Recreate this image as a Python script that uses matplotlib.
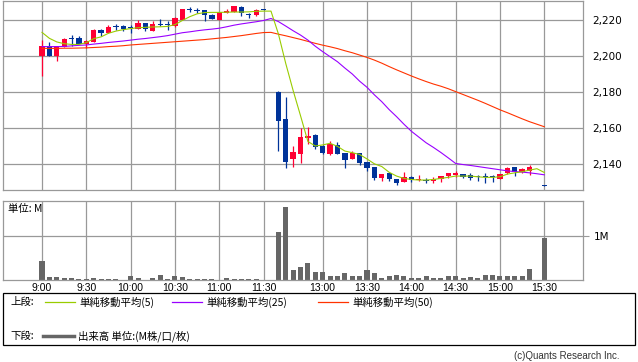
import matplotlib
matplotlib.use("Agg")
import matplotlib.pyplot as plt
from matplotlib.lines import Line2D
from matplotlib.patches import Rectangle
from matplotlib.ticker import FuncFormatter

plt.rcParams['font.family'] = ['DejaVu Sans', 'Noto Sans CJK JP']
JP = ['Noto Sans CJK JP', 'DejaVu Sans']

# 5分足の時刻 (前場 9:00-11:30 / 昼休み 1枠 / 後場 12:30-15:30)
am_times = [f"{9 + m // 60}:{m % 60:02d}" for m in range(0, 155, 5)]
pm_times = [f"{12 + (30 + m) // 60}:{(30 + m) % 60:02d}" for m in range(0, 185, 5)]
times = am_times + [""] + pm_times

xtick_labels = ["9:00", "9:30", "10:00", "10:30", "11:00", "11:30",
                "13:00", "13:30", "14:00", "14:30", "15:00", "15:30"]
price_ticks = [2140, 2160, 2180, 2200, 2220]

N = None
opens = [2200, 2206, 2200, 2205, 2210, 2210, 2207, 2208, 2214.6, 2213,
         2217, 2216.8, 2215.8, 2215.4, 2218.3, 2214, 2218, 2217.6, 2217, 2220.2,
         2225.8, 2225.4, 2225.5, 2223.1, 2220.2, 2223.9, 2224.6, 2227.6, 2223.3, 2223.1,
         2226.2, N,
         2180, 2165.2, 2143.1, 2145.7, 2154.8, 2156.3, 2150.4, 2145.7, 2150.7, 2146.3,
         2143.1, 2146.1, 2141.1, 2138.7, 2132.6, 2135, 2131.8, 2130, 2133.1, 2131.1,
         2131.5, 2130.9, 2131.6, 2133.5, 2134.1, 2134.6, 2134.1, 2133.7, 2133.5, 2133.2,
         2131.8, 2135, 2138.3, 2135.7, 2136.3, N, 2128.4]
highs = [2209, 2208, 2206, 2210, 2212, 2211.3, 2209, 2215, 2215, 2217.6,
         2218, 2217.6, 2217.6, 2220.2, 2218.4, 2219.8, 2220.7, 2219.6, 2221.6, 2226.5,
         2227.2, 2226.6, 2225.6, 2223.7, 2224.5, 2226.3, 2228, 2228, 2224.2, 2226.1,
         2226.2, N,
         2180.7, 2177.4, 2150.2, 2160.4, 2160.7, 2157, 2150.5, 2153, 2152.6, 2146.5,
         2147.2, 2146.2, 2141.2, 2138.8, 2134.5, 2135.2, 2132, 2135.5, 2133.3, 2134.1,
         2132.2, 2132.8, 2133.6, 2135.3, 2136.5, 2134.7, 2135, 2134.1, 2135, 2134.1,
         2134.7, 2138.3, 2138.4, 2137.8, 2139.6, N, 2128.4]
lows = [2189, 2200, 2197.5, 2205, 2206, 2207, 2204.5, 2208, 2211.5, 2213,
        2214.6, 2214.3, 2212.8, 2215, 2214.3, 2214, 2216.8, 2214.8, 2216.5, 2220,
        2224.8, 2223.9, 2219.8, 2220.5, 2220, 2223.9, 2224.5, 2222.6, 2221.3, 2222.6,
        2226, N,
        2147.6, 2137.8, 2138.3, 2140.9, 2151.1, 2148.3, 2145.5, 2145.3, 2145.6, 2137.8,
        2142.8, 2139.6, 2136.5, 2131.5, 2130.9, 2130.9, 2128.5, 2130, 2130.3, 2130.9,
        2129.8, 2129.8, 2130, 2132.2, 2133.1, 2132.2, 2131.5, 2130.9, 2129.4, 2130,
        2131.8, 2134.6, 2133.7, 2135, 2134.1, N, 2128.2]
closes = [2206, 2200, 2205.5, 2209.5, 2209.8, 2207, 2208.7, 2214.6, 2213, 2216.3,
          2216.2, 2215, 2215.6, 2218.3, 2215, 2218, 2217.6, 2217.3, 2221.1, 2226.1,
          2225.6, 2225.2, 2223.1, 2220.5, 2224.4, 2225.2, 2227.9, 2223.9, 2223, 2225.5,
          2226, N,
          2164.2, 2141.5, 2146.8, 2155.2, 2155.9, 2149.8, 2146.5, 2151.3, 2145.7, 2142.6,
          2146.5, 2140.9, 2138.1, 2132.6, 2134.4, 2131.6, 2129.4, 2133.1, 2131.3, 2131.5,
          2130.9, 2131.6, 2133.5, 2135, 2135.3, 2133.1, 2132.2, 2132.8, 2132.8, 2133,
          2134.6, 2137.8, 2135.7, 2137.2, 2138.3, N, 2128.2]

ma5 = [2213.3, 2210, 2208, 2207, 2206.6, 2206.6, 2207.6, 2209.8, 2210.8, 2212.8,
       2214, 2214.8, 2215.4, 2215.9, 2216.1, 2216.3, 2216.4, 2216.6, 2217.6, 2219.9,
       2222, 2223.6, 2224.3, 2224.4, 2224.4, 2224.5, 2224.6, 2224.6, 2224.7, 2225,
       2225.1, 2225.1,
       2212.5, 2196, 2181, 2167, 2152.7, 2150.2, 2150.8, 2151.7, 2150, 2147.4,
       2146.5, 2145.5, 2143, 2140.3, 2138.8, 2135.6, 2133.5, 2132.2, 2131.6, 2131.3,
       2131.3, 2131.6, 2132.2, 2132.8, 2133.5, 2133.5, 2133.5, 2133.1, 2132.8, 2132.8,
       2133.1, 2134.6, 2135.3, 2135.9, 2136.8, 2137.6, 2135.5]
ma25 = [2205.4, 2205.4, 2205.4, 2205.5, 2205.8, 2206.1, 2206.3, 2206.8, 2207.2, 2207.7,
        2208.1, 2208.5, 2209, 2209.5, 2209.9, 2210.4, 2210.9, 2211.5, 2212.3, 2213.1,
        2213.6, 2214.2, 2214.7, 2215.1, 2215.6, 2216.4, 2217.3, 2218, 2218.6, 2219.2,
        2219.9, 2221,
        2219.3, 2216.8, 2214.2, 2211.8, 2209, 2205.6, 2202.6, 2199.8, 2197, 2193.5,
        2190.2, 2186.2, 2182.8, 2178.6, 2174.8, 2170.4, 2166.5, 2162.3, 2158.4, 2155.2,
        2152, 2149.4, 2146.6, 2143.6, 2140.5, 2139.9, 2139.4, 2138.8, 2138.2, 2137.6,
        2137, 2136.4, 2136, 2135.7, 2135.3, 2134.8, 2134.2]
ma50 = [2204.4, 2204.4, 2204.4, 2204.5, 2204.5, 2204.6, 2204.7, 2204.9, 2205.1, 2205.4,
        2205.6, 2205.9, 2206.3, 2206.6, 2206.9, 2207.2, 2207.5, 2207.8, 2208.1, 2208.4,
        2208.7, 2209, 2209.3, 2209.7, 2210.1, 2210.5, 2211, 2211.5, 2212.1, 2212.7,
        2213.2, 2213.3,
        2212.3, 2211.4, 2210.4, 2209.4, 2208.3, 2207.2, 2206.2, 2205.3, 2204.3, 2203.1,
        2202, 2200.7, 2199.4, 2197.9, 2196.2, 2194.3, 2192.5, 2190.8, 2189.1, 2187.5,
        2186, 2184.6, 2183.4, 2182, 2180.4, 2178.8, 2177.2, 2175.6, 2173.9, 2172.1,
        2170.3, 2168.7, 2167, 2165.3, 2163.7, 2162.3, 2160.9]

# 出来高 (百万株)
volume = [0.43, 0.07, 0.07, 0.05, 0.05, 0.03, 0.03, 0.05, 0.03, 0.03,
          0.03, 0.01, 0.09, 0.05, 0.01, 0.05, 0.11, 0.03, 0.09, 0.07,
          0.03, 0.03, 0.03, 0.03, 0.01, 0.05, 0.03, 0.03, 0.03, 0.03,
          0.01, 0,
          1.08, 1.65, 0.23, 0.30, 0.38, 0.19, 0.19, 0.08, 0.10, 0.16,
          0.08, 0.10, 0.23, 0.16, 0.05, 0.10, 0.11, 0.08, 0.05, 0.05,
          0.10, 0.05, 0.05, 0.08, 0.10, 0.05, 0.07, 0.05, 0.11, 0.11,
          0.10, 0.10, 0.10, 0.10, 0.25, 0, 0.95]

UP = '#ff0033'
DOWN = '#003399'
GRID = '#999999'
W, H = 638, 362

fig = plt.figure(figsize=(W / 100, H / 100), dpi=100)
fig.patch.set_facecolor('white')


def fx(x):
    return x / W


def fy(y):
    return 1 - y / H


ax = fig.add_axes([fx(3), fy(190.3), fx(579.7), 189.8 / H])
axv = fig.add_axes([fx(3), fy(280), fx(579.7), 79 / H])

xs = list(range(len(times)))
tick_pos = [times.index(t) for t in xtick_labels]

# ローソク足
for i in xs:
    o, h, l, c = opens[i], highs[i], lows[i], closes[i]
    if o is None:
        continue
    col = UP if c > o else DOWN
    ax.vlines(i, l, h, color=col, lw=0.9, zorder=2)
    ax.bar(i, max(abs(c - o), 0.55), bottom=min(o, c), width=0.72,
           color=col, lw=0, zorder=2)

ax.plot(xs, ma50, color='#ff3300', lw=0.8, zorder=3)
ax.plot(xs, ma25, color='#9900ff', lw=0.8, zorder=3)
ax.plot(xs, ma5, color='#99cc00', lw=0.8, zorder=4)

ax.set_xlim(-5.28, 73.2)
ax.set_ylim(2125.6, 2231)
ax.set_xticks(tick_pos)
ax.set_xticklabels([])
ax.set_yticks(price_ticks)
ax.yaxis.tick_right()
ax.yaxis.set_major_formatter(FuncFormatter(lambda v, p: f"{int(v):,}"))
ax.tick_params(axis='y', length=0, pad=7, labelsize=7.5)
ax.tick_params(axis='x', length=0)
ax.grid(True, color=GRID, lw=0.9, zorder=0)
ax.set_axisbelow(True)

# 出来高
vx = [i for i in xs if volume[i] > 0]
axv.bar(vx, [volume[i] for i in vx], width=0.68, color='#666666', lw=0, zorder=2)
axv.set_xlim(-5.28, 73.2)
axv.set_ylim(0, 1.78)
axv.set_yticks([1.0])
axv.set_yticklabels(["1M"])
axv.yaxis.tick_right()
axv.tick_params(axis='y', length=4, width=0.8, color=GRID, pad=4, labelsize=7.5)
axv.set_xticks(tick_pos)
axv.set_xticklabels(xtick_labels, fontsize=7.5, family=['Liberation Sans', 'DejaVu Sans'])
axv.tick_params(axis='x', length=0, pad=2)
axv.grid(True, color=GRID, lw=0.9, zorder=0)
axv.set_axisbelow(True)
axv.text(0.009, 0.9, "単位: M", transform=axv.transAxes, fontsize=7.5,
         family=JP, va='center', ha='left')

for a in (ax, axv):
    for s in a.spines.values():
        s.set_color(GRID)
        s.set_linewidth(0.9)

# 凡例
fig.add_artist(Rectangle((fx(3), fy(345)), fx(632), 52 / H, transform=fig.transFigure,
                         fill=False, edgecolor='black', lw=0.9))
fig.text(fx(10), fy(302), "上段:", fontsize=7.5, family=JP, va='center')
fig.text(fx(10), fy(336), "下段:", fontsize=7.5, family=JP, va='center')
legend_items = [("単純移動平均(5)", '#99cc00', 45), ("単純移動平均(25)", '#9900ff', 172),
                ("単純移動平均(50)", '#ff3300', 318)]
for label, col, x0 in legend_items:
    fig.add_artist(Line2D([fx(x0), fx(x0 + 30)], [fy(302), fy(302)], color=col, lw=0.9))
    fig.text(fx(x0 + 34), fy(302), label, fontsize=7.5, family=JP, va='center')
fig.add_artist(Line2D([fx(43), fx(74)], [fy(336), fy(336)], color='#666666', lw=2.5))
fig.text(fx(78), fy(336), "出来高 単位:(M株/口/枚)", fontsize=7.5, family=JP, va='center')

fig.text(fx(619), fy(356), "(c)Quants Research Inc.", fontsize=7, color='#333333',
         family=['Liberation Sans', 'DejaVu Sans'], ha='right', va='center')

fig.savefig("out.png", dpi=100, facecolor='white')
